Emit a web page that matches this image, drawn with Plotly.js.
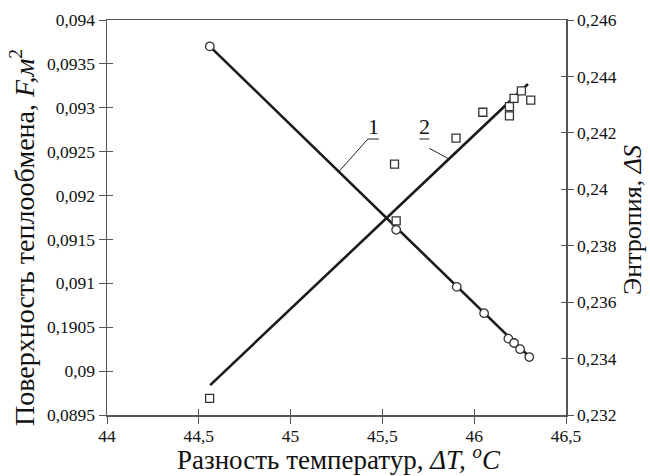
<!DOCTYPE html>
<html>
<head>
<meta charset="utf-8">
<script src="https://cdn.plot.ly/plotly-3.0.1.min.js"></script>
<style>html,body{margin:0;padding:0;background:#fff;}#chart{width:650px;height:476px;}</style>
</head>
<body>
<div id="chart"></div>
<script>
// Series 1: heat-exchange surface F (circles, left axis)
const dT_F = [44.56, 45.575, 45.905, 46.054, 46.186, 46.217, 46.25, 46.30];
const F_vals = [0.09370, 0.09161, 0.09096, 0.09066, 0.09037, 0.09032, 0.09025, 0.09016];
const fitF_x = [44.56, 46.30];
const fitF_y = [0.09370, 0.090164];

// Series 2: entropy ΔS (squares, right axis)
const dT_S = [44.559, 45.566, 45.575, 45.901, 46.047, 46.192, 46.192, 46.217, 46.257, 46.308];
const S_vals = [0.23259, 0.24089, 0.23888, 0.24181, 0.24273, 0.24260, 0.24293, 0.24322, 0.24349, 0.24316];
const fitS_x = [44.562, 46.293];
const fitS_y = [0.23306, 0.24373];

// Tick labels
const xTickVals = [44, 44.5, 45, 45.5, 46, 46.5];
const xTickText = ['44', '44,5', '45', '45,5', '46', '46,5'];
const yLeftVals = [0.0895, 0.09, 0.0905, 0.091, 0.0915, 0.092, 0.0925, 0.093, 0.0935, 0.094];
const yLeftText = ['0,0895', '0,09', '0,1905', '0,091', '0,0915', '0,092', '0,0925', '0,093', '0,0935', '0,094'];
const yRightVals = [0.232, 0.234, 0.236, 0.238, 0.24, 0.242, 0.244, 0.246];
const yRightText = ['0,232', '0,234', '0,236', '0,238', '0,24', '0,242', '0,244', '0,246'];

// Titles and curve labels
const xTitle = 'Разность температур, <i>ΔT, <sup>o</sup>C</i>';
const yLeftTitle = 'Поверхность теплообмена, <i>F,м</i><sup>2</sup>';
const yRightTitle = 'Энтропия, <i>ΔS</i>';
const curveLabels = ['1', '2'];

const FONT = '"Liberation Serif", "Times New Roman", serif';
const AX = '#555555';
const INK = '#1a1a1a';
const TICKSZ = 17.5;

const traces = [
  {x: fitF_x, y: fitF_y, xaxis: 'x', yaxis: 'y', mode: 'lines', line: {color: INK, width: 2.6}, hoverinfo: 'skip', showlegend: false},
  {x: fitS_x, y: fitS_y, xaxis: 'x', yaxis: 'y2', mode: 'lines', line: {color: INK, width: 2.6}, hoverinfo: 'skip', showlegend: false},
  {x: dT_F, y: F_vals, xaxis: 'x', yaxis: 'y', mode: 'markers', marker: {symbol: 'circle', size: 8.5, color: '#ffffff', line: {color: '#333333', width: 1.3}}, showlegend: false},
  {x: dT_S, y: S_vals, xaxis: 'x', yaxis: 'y2', mode: 'markers', marker: {symbol: 'square', size: 8, color: '#ffffff', line: {color: '#333333', width: 1.3}}, showlegend: false},
  // empty traces to activate inside-tick overlay axes
  {x: [], y: [], xaxis: 'x2', yaxis: 'y3', mode: 'markers', showlegend: false, hoverinfo: 'skip'},
  {x: [], y: [], xaxis: 'x2', yaxis: 'y4', mode: 'markers', showlegend: false, hoverinfo: 'skip'}
];

const xr = [44, 46.5], ylr = [0.0895, 0.094], yrr = [0.232, 0.246];

const layout = {
  width: 650, height: 476,
  margin: {l: 107, r: 84, t: 20, b: 61},
  paper_bgcolor: '#ffffff', plot_bgcolor: '#ffffff',
  font: {family: FONT, size: TICKSZ, color: '#111111'},
  showlegend: false,
  xaxis: {
    range: xr, tickvals: xTickVals, ticktext: xTickText,
    ticks: 'outside', ticklen: 7, tickwidth: 1, tickcolor: AX,
    ticklabelstandoff: -3,
    showline: true, linecolor: AX, linewidth: 1.5, mirror: true,
    showgrid: false, zeroline: false, automargin: false,
    tickfont: {family: FONT, size: TICKSZ, color: '#111'}
  },
  yaxis: {
    range: ylr, tickvals: yLeftVals, ticktext: yLeftText,
    ticks: 'outside', ticklen: 7, tickwidth: 1, tickcolor: AX,
    showline: true, linecolor: AX, linewidth: 1.5,
    showgrid: false, zeroline: false, automargin: false,
    tickfont: {family: FONT, size: TICKSZ, color: '#111'}
  },
  yaxis2: {
    range: yrr, tickvals: yRightVals, ticktext: yRightText,
    overlaying: 'y', side: 'right', anchor: 'x',
    ticks: 'outside', ticklen: 6, tickwidth: 1, tickcolor: AX,
    showline: true, linecolor: AX, linewidth: 1.5,
    showgrid: false, zeroline: false, automargin: false,
    tickfont: {family: FONT, size: TICKSZ, color: '#111'}
  },
  xaxis2: {
    range: xr, tickvals: xTickVals, overlaying: 'x', anchor: 'y3',
    ticks: 'inside', ticklen: 6, tickwidth: 1, tickcolor: AX,
    showticklabels: false, showline: false, showgrid: false, zeroline: false
  },
  yaxis3: {
    range: ylr, tickvals: yLeftVals, overlaying: 'y', side: 'left', anchor: 'x2',
    ticks: 'inside', ticklen: 6, tickwidth: 1, tickcolor: AX,
    showticklabels: false, showline: false, showgrid: false, zeroline: false
  },
  yaxis4: {
    range: yrr, tickvals: yRightVals, overlaying: 'y', side: 'right', anchor: 'x2',
    ticks: 'inside', ticklen: 5, tickwidth: 1, tickcolor: AX,
    showticklabels: false, showline: false, showgrid: false, zeroline: false
  },
  shapes: [
    {type: 'line', xref: 'x', yref: 'y', x0: 45.266, y0: 0.09228, x1: 45.421, y1: 0.092644, line: {color: '#222', width: 1}},
    {type: 'line', xref: 'x', yref: 'y', x0: 45.421, y0: 0.092644, x1: 45.481, y1: 0.092644, line: {color: '#222', width: 1}},
    {type: 'line', xref: 'x', yref: 'y', x0: 45.702, y0: 0.092644, x1: 45.756, y1: 0.092644, line: {color: '#222', width: 1}},
    {type: 'line', xref: 'x', yref: 'y2', x0: 45.756, y0: 0.241452, x1: 45.856, y1: 0.241097, line: {color: '#222', width: 1}}
  ],
  annotations: [
    {xref: 'x', yref: 'y', x: 45.452, y: 0.09262, text: curveLabels[0], showarrow: false, xanchor: 'center', yanchor: 'bottom', font: {family: FONT, size: 22, color: '#111'}},
    {xref: 'x', yref: 'y', x: 45.727, y: 0.09262, text: curveLabels[1], showarrow: false, xanchor: 'center', yanchor: 'bottom', font: {family: FONT, size: 22, color: '#111'}},
    {xref: 'paper', yref: 'paper', x: 0.5056, y: -0.11, text: xTitle, showarrow: false, xanchor: 'center', yanchor: 'middle', font: {family: FONT, size: 27, color: '#111'}},
    {xref: 'paper', yref: 'paper', x: -0.1852, y: 0.4506, text: yLeftTitle, textangle: -90, showarrow: false, xanchor: 'center', yanchor: 'middle', font: {family: FONT, size: 28, color: '#111'}},
    {xref: 'paper', yref: 'paper', x: 1.146, y: 0.494, text: yRightTitle, textangle: -90, showarrow: false, xanchor: 'center', yanchor: 'middle', font: {family: FONT, size: 26, color: '#111'}}
  ]
};

Plotly.newPlot('chart', traces, layout, {displayModeBar: false, staticPlot: true});
</script>
</body>
</html>
